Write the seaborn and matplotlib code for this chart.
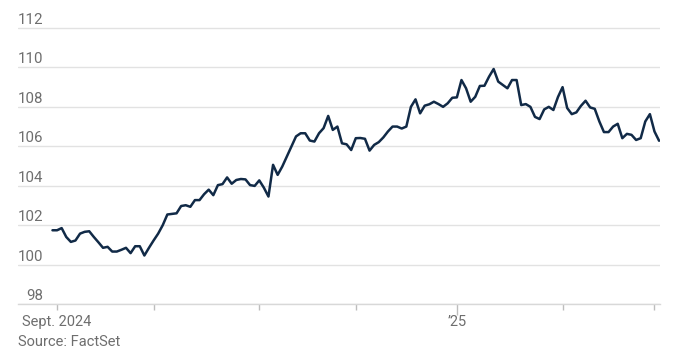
import matplotlib
matplotlib.use("Agg")
import matplotlib.pyplot as plt
import seaborn as sns
import pandas as pd
import numpy as np

# ---- data ----
start_date = "2024-08-30"
end_date = "2025-03-04"
values = [
    101.74, 101.74, 101.85, 101.40, 101.15, 101.22, 101.57, 101.66, 101.69, 101.40,
    101.13, 100.85, 100.90, 100.66, 100.66, 100.75, 100.85, 100.58, 100.93, 100.93,
    100.46, 100.85, 101.22, 101.57, 102.00, 102.54, 102.57, 102.60, 102.97, 103.01,
    102.93, 103.27, 103.27, 103.57, 103.80, 103.52, 104.03, 104.08, 104.42, 104.10,
    104.29, 104.34, 104.32, 104.03, 103.99, 104.27, 103.90, 103.45, 105.06, 104.55,
    104.97, 105.48, 106.00, 106.50, 106.66, 106.66, 106.29, 106.24, 106.66, 106.92,
    107.54, 106.83, 107.00, 106.15, 106.10, 105.81, 106.41, 106.42, 106.38, 105.78,
    106.07, 106.21, 106.45, 106.75, 107.00, 107.00, 106.90, 107.00, 108.00, 108.38,
    107.67, 108.06, 108.13, 108.26, 108.14, 108.00, 108.18, 108.46, 108.48, 109.36,
    108.94, 108.26, 108.51, 109.06, 109.07, 109.53, 109.92, 109.28, 109.11, 108.94,
    109.36, 109.36, 108.09, 108.14, 108.00, 107.49, 107.38, 107.87, 108.00, 107.84,
    108.50, 109.00, 107.94, 107.63, 107.72, 108.05, 108.31, 107.97, 107.90, 107.26,
    106.72, 106.72, 107.00, 107.14, 106.41, 106.63, 106.58, 106.32, 106.41, 107.26,
    107.63, 106.75, 106.28,
]
y_ticks = [98, 100, 102, 104, 106, 108, 110, 112]
x_tick_labels = {"2024-09": "Sept. 2024", "2025-01": "\u201925"}
source_text = "Source: FactSet"

dates = pd.bdate_range(start_date, end_date)
df = pd.DataFrame({"date": dates, "value": values})
df["idx"] = np.arange(len(df))

# month-start tick positions (first weekday of each month)
month_key = df["date"].dt.strftime("%Y-%m")
first_rows = df.groupby(month_key)["idx"].min()
tick_months = [m for m in first_rows.index if df.loc[first_rows[m], "date"].day <= 3]
tick_pos = [int(first_rows[m]) for m in tick_months]
tick_lab = [x_tick_labels.get(m, "") for m in tick_months]

# ---- style ----
sns.set_style("white")
plt.rcParams["font.family"] = ["Roboto", "DejaVu Sans"]

W, H = 680, 356
fig = plt.figure(figsize=(W / 100, H / 100), dpi=100)
ax = fig.add_axes([18 / W, 52 / H, 642 / W, 277 / H])

line_color = "#112a47"
grid_color = "#e2e2e2"
text_color = "#6e6e6e"

sns.lineplot(data=df, x="idx", y="value", ax=ax, color=line_color,
             linewidth=1.8, solid_joinstyle="round", solid_capstyle="round")

ax.set_xlim(-7.5, 132.2)
ax.set_ylim(98, 112.05)

ax.set_yticks(y_ticks)
ax.set_yticklabels([])
ax.tick_params(axis="y", length=0, left=False)
ax.yaxis.grid(True, color=grid_color, linewidth=1.0)
ax.xaxis.grid(False)
ax.set_axisbelow(True)

for s in ["top", "right", "left"]:
    ax.spines[s].set_visible(False)
ax.spines["bottom"].set_color("#d8d8d8")
ax.spines["bottom"].set_linewidth(1.0)

for v in y_ticks:
    ax.annotate(str(v), xy=(0, v), xycoords=("axes fraction", "data"),
                xytext=(25, 4), textcoords="offset pixels",
                ha="right", va="baseline", fontsize=10.8, color=text_color)

ax.set_xticks(tick_pos)
ax.set_xticklabels(tick_lab)
ax.tick_params(axis="x", bottom=True, direction="out", length=4, width=1,
               color="#bdbdbd", pad=4, labelsize=10.5, labelcolor=text_color)
for t, m in zip(ax.xaxis.get_major_ticks(), tick_months):
    if m == "2025-01":
        t.tick1line.set_markersize(8)

ax.set_xlabel("")
ax.set_ylabel("")

fig.text(18 / W, 1 - 342 / H, source_text, ha="left", va="center",
         fontsize=10.5, color=text_color)

fig.savefig("out.png", dpi=100)
